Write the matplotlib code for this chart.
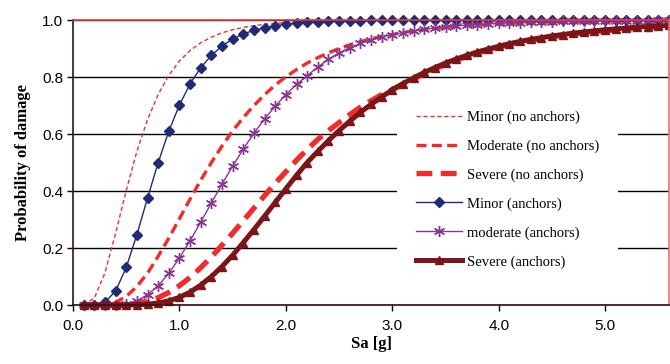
import matplotlib
matplotlib.use("Agg")
import matplotlib.pyplot as plt

# spectral acceleration [g]
sa = [0.1, 0.2, 0.3, 0.4, 0.5, 0.6, 0.7, 0.8, 0.9, 1.0,
      1.1, 1.2, 1.3, 1.4, 1.5, 1.6, 1.7, 1.8, 1.9, 2.0,
      2.1, 2.2, 2.3, 2.4, 2.5, 2.6, 2.7, 2.8, 2.9, 3.0,
      3.1, 3.2, 3.3, 3.4, 3.5, 3.6, 3.7, 3.8, 3.9, 4.0,
      4.1, 4.2, 4.3, 4.4, 4.5, 4.6, 4.7, 4.8, 4.9, 5.0,
      5.1, 5.2, 5.3, 5.4, 5.5, 5.6]

minor_no = [0.0005, 0.024, 0.113, 0.252, 0.402, 0.539, 0.651, 0.739, 0.806, 0.856,
            0.893, 0.920, 0.940, 0.955, 0.966, 0.974, 0.980, 0.985, 0.988, 0.991,
            0.993, 0.995, 0.996, 0.997, 0.997, 0.998, 0.998, 0.999, 0.999, 0.999,
            0.999, 0.999, 1.0, 1.0, 1.0, 1.0, 1.0, 1.0, 1.0, 1.0,
            1.0, 1.0, 1.0, 1.0, 1.0, 1.0, 1.0, 1.0, 1.0, 1.0,
            1.0, 1.0, 1.0, 1.0, 1.0, 1.0]

moderate_no = [0.0, 0.0, 0.002, 0.010, 0.030, 0.065, 0.112, 0.171, 0.235, 0.303,
               0.372, 0.438, 0.500, 0.558, 0.611, 0.658, 0.700, 0.738, 0.772, 0.801,
               0.826, 0.849, 0.868, 0.885, 0.900, 0.913, 0.924, 0.934, 0.942, 0.949,
               0.956, 0.961, 0.966, 0.970, 0.974, 0.977, 0.980, 0.982, 0.984, 0.986,
               0.988, 0.989, 0.990, 0.992, 0.993, 0.993, 0.994, 0.995, 0.995, 0.996,
               0.996, 0.997, 0.997, 0.997, 0.998, 0.998]

severe_no = [0.0, 0.0, 0.0001, 0.0005, 0.002, 0.006, 0.013, 0.026, 0.044, 0.068,
             0.097, 0.131, 0.169, 0.210, 0.252, 0.296, 0.340, 0.384, 0.427, 0.468,
             0.508, 0.546, 0.581, 0.612, 0.640, 0.668, 0.694, 0.717, 0.738, 0.756,
             0.774, 0.793, 0.811, 0.828, 0.844, 0.859, 0.872, 0.884, 0.895, 0.905,
             0.914, 0.922, 0.929, 0.935, 0.941, 0.946, 0.951, 0.955, 0.959, 0.962,
             0.965, 0.968, 0.971, 0.973, 0.975, 0.977]

minor_anc = [0.0, 0.0005, 0.010, 0.049, 0.132, 0.247, 0.375, 0.500, 0.610, 0.702,
             0.776, 0.833, 0.876, 0.909, 0.933, 0.951, 0.964, 0.973, 0.980, 0.985,
             0.989, 0.992, 0.994, 0.996, 0.997, 0.997, 0.998, 0.999, 0.999, 0.999,
             0.999, 0.999, 0.999, 0.999, 0.999, 1.0, 1.0, 1.0, 1.0, 1.0,
             1.0, 1.0, 1.0, 1.0, 1.0, 1.0, 1.0, 1.0, 1.0, 1.0,
             1.0, 1.0, 1.0, 1.0, 1.0, 1.0]

moderate_anc = [0.0, 0.0, 0.0001, 0.001, 0.005, 0.015, 0.036, 0.068, 0.111, 0.165,
                0.226, 0.291, 0.358, 0.424, 0.488, 0.547, 0.603, 0.653, 0.698, 0.738,
                0.774, 0.805, 0.835, 0.862, 0.885, 0.903, 0.918, 0.930, 0.940, 0.949,
                0.956, 0.962, 0.967, 0.972, 0.976, 0.979, 0.982, 0.984, 0.986, 0.988,
                0.990, 0.991, 0.992, 0.993, 0.994, 0.995, 0.996, 0.996, 0.997, 0.997,
                0.998, 0.998, 0.998, 0.998, 0.999, 0.999]

severe_anc = [0.0, 0.0, 0.0, 0.0, 0.0002, 0.0008, 0.003, 0.007, 0.015, 0.027,
              0.045, 0.070, 0.100, 0.135, 0.175, 0.219, 0.265, 0.312, 0.360, 0.408,
              0.455, 0.500, 0.539, 0.577, 0.612, 0.645, 0.676, 0.704, 0.730, 0.755,
              0.777, 0.797, 0.816, 0.833, 0.849, 0.863, 0.876, 0.888, 0.898, 0.908,
              0.917, 0.925, 0.932, 0.938, 0.944, 0.949, 0.954, 0.958, 0.962, 0.966,
              0.969, 0.972, 0.975, 0.977, 0.979, 0.981]

x_ticks = [0.0, 1.0, 2.0, 3.0, 4.0, 5.0]
y_ticks = [0.0, 0.2, 0.4, 0.6, 0.8, 1.0]

red = '#f42a2a'
navy = '#1f2a78'
purple = '#8a3590'
maroon = '#7d1518'

fig, ax = plt.subplots(figsize=(6.7, 3.64), dpi=100)
fig.subplots_adjust(left=0.109, right=0.9985, top=0.945, bottom=0.162)

ax.plot(sa, minor_no, color=red, lw=1.0, dashes=(3, 2), label='Minor (no anchors)', clip_on=False)
ax.plot(sa, moderate_no, color=red, lw=2.4, dashes=(3, 1.6), label='Moderate (no anchors)', clip_on=False)
ax.plot(sa, severe_no, color=red, lw=3.8, dashes=(3, 1.6), label='Severe (no anchors)', clip_on=False)
ax.plot(sa, minor_anc, color=navy, lw=1.0, marker='D', ms=5.5, label='Minor (anchors)', clip_on=False)
ax.plot(sa, moderate_anc, color=purple, lw=1.0, marker=(6, 2, 0), ms=8, mew=1.0,
        label='moderate (anchors)', clip_on=False)
ax.plot(sa, severe_anc, color=maroon, lw=3.6, marker='^', ms=5.5, label='Severe (anchors)', clip_on=False)

ax.set_xlim(0, 5.6)
ax.set_ylim(0, 1.0)
ax.set_xticks(x_ticks)
ax.set_yticks(y_ticks)
ax.set_xticklabels(['%.1f' % v for v in x_ticks], family='Liberation Sans', fontsize=11)
ax.set_yticklabels(['%.1f' % v for v in y_ticks], family='Liberation Sans', fontsize=11)
ax.tick_params(axis='both', direction='out', length=4, width=1, colors='black')
ax.tick_params(axis='x', pad=6)
ax.tick_params(axis='y', pad=3)

ax.yaxis.grid(True, color='black', lw=1.0)
ax.set_axisbelow(True)

ax.spines['top'].set_color('#e83a3a')
ax.spines['right'].set_color('#e87070')
ax.spines['left'].set_color('#3a1010')
ax.spines['bottom'].set_color('#3a1010')
for s in ax.spines.values():
    s.set_linewidth(1.2)

ax.set_xlabel('Sa [g]', family='Liberation Serif', fontweight='bold', fontsize=12, labelpad=2)
ax.set_ylabel('Probability of damage', family='Liberation Serif', fontweight='bold', fontsize=12, labelpad=8)

leg = ax.legend(loc='upper left', bbox_to_anchor=(0.531, 0.775), frameon=True, fancybox=False,
                edgecolor='none', facecolor='white', framealpha=1.0,
                prop={'family': 'Liberation Serif', 'size': 10.5},
                handlelength=3.2, handletextpad=0.3, labelspacing=1.06, borderpad=1.3)
leg.set_zorder(5)

fig.savefig('out.png', dpi=100)
